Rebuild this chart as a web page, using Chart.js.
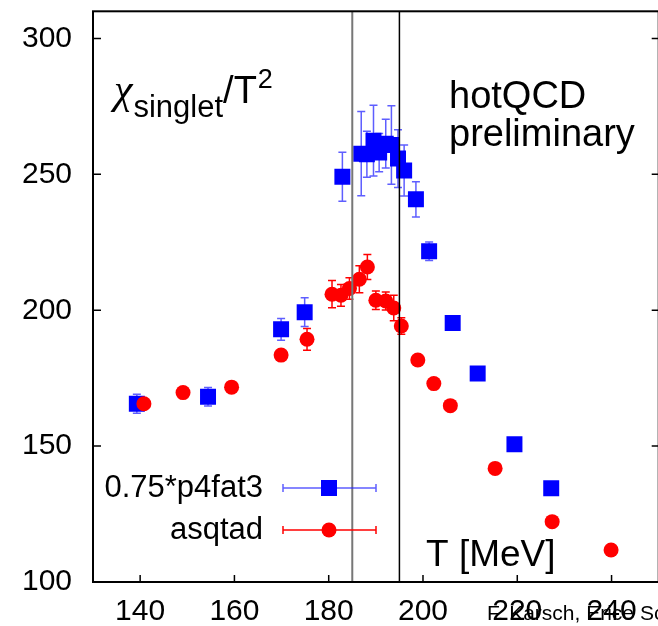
<!DOCTYPE html>
<html>
<head>
<meta charset="utf-8">
<script src="https://cdn.jsdelivr.net/npm/chart.js@4.4.0/dist/chart.umd.min.js"></script>
<style>
  html, body { margin: 0; padding: 0; background: #fff; overflow: hidden; }
  canvas { display: block; }
</style>
</head>
<body>
<canvas id="chart" width="670" height="626"></canvas>
<script>
// p4fat3 (scaled by 0.75) - blue squares
const p4T   = [139.3, 154.4, 169.9, 174.9, 182.9, 186.9, 188.1, 189.5, 190.7, 192.1, 193.3, 194.7, 196.0, 198.5, 201.3, 206.3, 211.6, 219.4, 227.2];
const p4Val = [165.6, 168.2, 193.0, 199.3, 249.1, 257.6, 257.4, 262.4, 258.0, 261.3, 260.8, 255.8, 251.4, 240.8, 221.7, 195.3, 176.7, 150.7, 134.5];
const p4Err = [3.5, 3.4, 4, 5.3, 9, 15.5, 8.5, 13, 7, 9, 14.4, 10.6, 9.4, 6.5, 3.4, 1.2, 0, 0, 0];

// asqtad - red circles
const asqT   = [140.8, 149.1, 159.4, 169.9, 175.4, 180.7, 182.6, 184.4, 186.5, 188.2, 190.0, 192.1, 193.8, 195.4, 198.9, 202.3, 205.8, 215.3, 227.4, 239.9];
const asqVal = [165.6, 169.7, 171.7, 183.5, 189.3, 205.9, 205.5, 208.0, 211.4, 215.9, 203.7, 203.4, 200.8, 194.2, 181.7, 173.0, 164.9, 141.8, 122.2, 111.8];
const asqErr = [0, 0, 0, 0, 4, 5, 4, 4, 5, 4.6, 3.4, 3.3, 4.7, 3, 0, 0, 0, 0, 0, 0];

// vertical marker lines (Tc band)
const tcLines = [185, 195];

const xTicks = [140, 160, 180, 200, 220, 240];
const yTicks = [100, 150, 200, 250, 300];

const FONT = '"Liberation Sans", Arial, Helvetica, sans-serif';
const BLUE = '#0000ff';
const RED = '#ff0000';

const toPoints = (xs, ys) => xs.map((x, i) => ({ x: x, y: ys[i] }));

// error bars, inward ticks, frame, labels and legend
const decorations = {
  id: 'decorations',
  beforeDatasetsDraw(chart) {
    const { ctx, scales: { x, y } } = chart;
    const drawErr = (xs, ys, es, color) => {
      ctx.save();
      ctx.strokeStyle = color;
      ctx.lineWidth = 1.5;
      xs.forEach((t, i) => {
        if (es[i] < 0.5) return;
        const px = x.getPixelForValue(t);
        const top = y.getPixelForValue(ys[i] + es[i]);
        const bot = y.getPixelForValue(ys[i] - es[i]);
        ctx.beginPath();
        ctx.moveTo(px, top); ctx.lineTo(px, bot);
        ctx.moveTo(px - 4, top); ctx.lineTo(px + 4, top);
        ctx.moveTo(px - 4, bot); ctx.lineTo(px + 4, bot);
        ctx.stroke();
      });
      ctx.restore();
    };
    drawErr(p4T, p4Val, p4Err, 'rgba(40,40,255,0.75)');
    drawErr(asqT, asqVal, asqErr, RED);
  },
  afterDraw(chart) {
    const { ctx, chartArea: a, scales: { x, y } } = chart;
    ctx.save();
    // frame
    ctx.strokeStyle = '#000';
    ctx.lineWidth = 2;
    ctx.strokeRect(a.left, a.top, a.right - a.left, a.bottom - a.top);
    // inward ticks
    ctx.lineWidth = 1.5;
    ctx.beginPath();
    xTicks.forEach(v => {
      const px = x.getPixelForValue(v);
      ctx.moveTo(px, a.bottom); ctx.lineTo(px, a.bottom - 7);
    });
    yTicks.forEach(v => {
      const py = y.getPixelForValue(v);
      ctx.moveTo(a.left, py); ctx.lineTo(a.left + 8, py);
      ctx.moveTo(a.right, py); ctx.lineTo(a.right - 7, py);
    });
    ctx.stroke();

    ctx.fillStyle = '#000';
    ctx.textBaseline = 'alphabetic';
    ctx.textAlign = 'left';
    // chi_singlet / T^2
    let cx = 114;
    ctx.font = 'italic 42px "Liberation Serif", serif';
    ctx.fillText('\u03c7', cx, 103);
    cx += ctx.measureText('\u03c7').width + 1;
    ctx.font = '31px ' + FONT;
    ctx.fillText('singlet', cx, 117);
    cx += ctx.measureText('singlet').width;
    ctx.font = '38px ' + FONT;
    ctx.fillText('/T', cx, 103);
    cx += ctx.measureText('/T').width;
    ctx.font = '27px ' + FONT;
    ctx.fillText('2', cx + 1, 88);

    ctx.font = '38px ' + FONT;
    ctx.fillText('hotQCD', 449, 108);
    ctx.fillText('preliminary', 449, 146);
    ctx.font = '37px ' + FONT;
    ctx.fillText('T [MeV]', 426, 566);

    ctx.font = '21px ' + FONT;
    ctx.fillText('F. Karsch, Erice School', 487, 620);

    // legend
    const legend = [
      { label: '0.75*p4fat3', color: BLUE, line: 'rgba(40,40,255,0.75)', y: 488, style: 'rect' },
      { label: 'asqtad', color: RED, line: RED, y: 530, style: 'circle' }
    ];
    legend.forEach(item => {
      ctx.font = '31px ' + FONT;
      ctx.textAlign = 'right';
      ctx.textBaseline = 'middle';
      ctx.fillStyle = '#000';
      ctx.fillText(item.label, 263, item.y);
      ctx.strokeStyle = item.line;
      ctx.lineWidth = 1.5;
      ctx.beginPath();
      ctx.moveTo(283, item.y); ctx.lineTo(376, item.y);
      ctx.moveTo(283, item.y - 4); ctx.lineTo(283, item.y + 4);
      ctx.moveTo(376, item.y - 4); ctx.lineTo(376, item.y + 4);
      ctx.stroke();
      ctx.fillStyle = item.color;
      if (item.style === 'rect') {
        ctx.fillRect(329 - 8, item.y - 8, 16, 16);
      } else {
        ctx.beginPath();
        ctx.arc(329, item.y, 7.5, 0, Math.PI * 2);
        ctx.fill();
      }
    });
    ctx.restore();
  }
};

const lineSets = tcLines.map((t, i) => ({
  type: 'line',
  data: [{ x: t, y: 100 }, { x: t, y: 310 }],
  borderColor: i === 0 ? '#777777' : '#000000',
  borderWidth: i === 0 ? 2 : 1.5,
  pointRadius: 0,
  showLine: true,
  order: 0
}));

new Chart(document.getElementById('chart'), {
  type: 'scatter',
  data: {
    datasets: [
      {
        label: 'asqtad',
        data: toPoints(asqT, asqVal),
        pointStyle: 'circle',
        pointRadius: 7.5,
        backgroundColor: RED,
        borderWidth: 0,
        order: 1
      },
      {
        label: '0.75*p4fat3',
        data: toPoints(p4T, p4Val),
        pointStyle: 'rect',
        pointRadius: 11.3,
        backgroundColor: BLUE,
        borderWidth: 0,
        order: 2
      },
      ...lineSets
    ]
  },
  options: {
    responsive: false,
    animation: false,
    layout: { padding: { top: 10, right: 7, left: 0, bottom: 0 } },
    plugins: { legend: { display: false }, tooltip: { enabled: false } },
    scales: {
      x: {
        type: 'linear',
        min: 130,
        max: 250,
        grid: { display: false, drawTicks: false },
        border: { display: false },
        afterBuildTicks: s => { s.ticks = xTicks.map(v => ({ value: v })); },
        afterFit: s => { s.height = 44; s.paddingLeft = 0; s.paddingRight = 0; },
        ticks: { color: '#000', padding: 12, maxRotation: 0, font: { family: FONT, size: 30 } }
      },
      y: {
        type: 'linear',
        min: 100,
        max: 310,
        grid: { display: false, drawTicks: false },
        border: { display: false },
        afterBuildTicks: s => { s.ticks = yTicks.map(v => ({ value: v })); },
        afterFit: s => { s.width = 93; s.paddingTop = 0; s.paddingBottom = 0; },
        ticks: { color: '#000', padding: 21, font: { family: FONT, size: 30 } }
      }
    }
  },
  plugins: [decorations]
});
</script>
</body>
</html>
